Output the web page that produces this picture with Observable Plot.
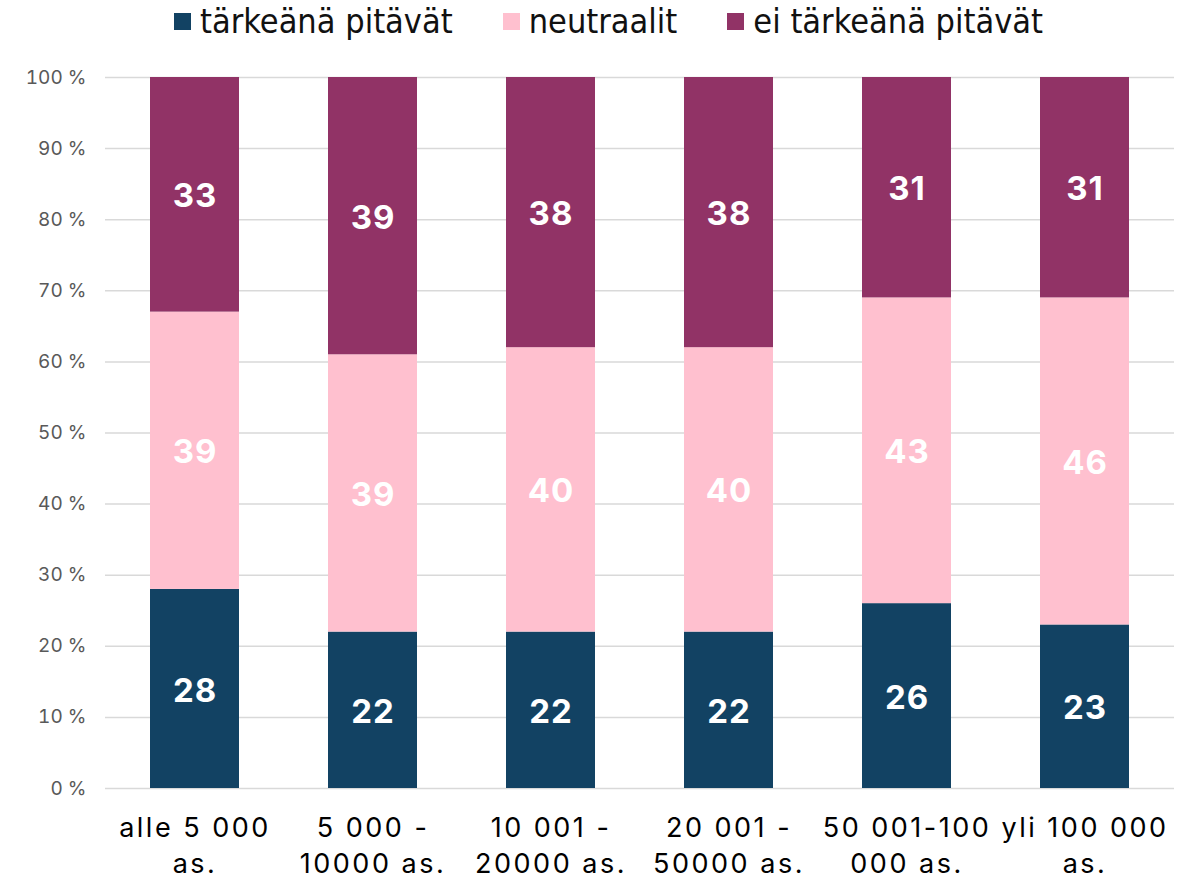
<!DOCTYPE html>
<html>
<head>
<meta charset="utf-8">
<script src="https://cdn.jsdelivr.net/npm/d3@7"></script>
<script src="https://cdn.jsdelivr.net/npm/@observablehq/plot@0.6"></script>
<style>
  html, body { margin: 0; padding: 0; background: #fff; }
  #legend {
    height: 42px; display: flex; align-items: center; justify-content: flex-start;
    padding-left: 174px; box-sizing: border-box; white-space: nowrap;
    font-family: "DejaVu Sans Condensed", "DejaVu Sans", sans-serif; font-size: 34px; color: #111;
  }
  .item { display: flex; align-items: center; flex-shrink: 0; margin-right: 50px; }
  .sw { width: 17px; height: 17px; margin-right: 9px; flex-shrink: 0; }
</style>
</head>
<body>
<div id="legend"></div>
<div id="chart"></div>
<script>
const categories = ["alle 5 000 as.", "5 000 - 10000 as.", "10 001 - 20000 as.", "20 001 - 50000 as.", "50 001-100 000 as.", "yli 100 000 as."];
const tickLabels = ["alle 5 000\nas.", "5 000 -\n10000 as.", "10 001 -\n20000 as.", "20 001 -\n50000 as.", "50 001-100\n000 as.", "yli 100 000\nas."];
const series = ["tärkeänä pitävät", "neutraalit", "ei tärkeänä pitävät"];
const important = [28, 22, 22, 22, 26, 23];
const neutral = [39, 39, 40, 40, 43, 46];
const notImportant = [33, 39, 38, 38, 31, 31];
const yTicks = [0, 10, 20, 30, 40, 50, 60, 70, 80, 90, 100];
const colors = ["#124263", "#FFC0CF", "#913366"];

const valuesBySeries = [important, neutral, notImportant];
const data = [];
categories.forEach((c, i) => {
  series.forEach((s, j) => data.push({category: c, series: s, value: valuesBySeries[j][i]}));
});

const legend = document.getElementById("legend");
series.forEach((s, j) => {
  const it = document.createElement("div"); it.className = "item";
  const sw = document.createElement("div"); sw.className = "sw"; sw.style.background = colors[j];
  const tx = document.createElement("span"); tx.textContent = s;
  it.appendChild(sw); it.appendChild(tx); legend.appendChild(it);
});

const chart = Plot.plot({
  width: 1195,
  height: 837,
  marginTop: 35,
  marginBottom: 91,
  marginLeft: 105,
  marginRight: 21,
  style: {fontFamily: "Inter, sans-serif", background: "#fff"},
  x: {domain: categories, paddingInner: 0.5, paddingOuter: 0.25, axis: null, label: null},
  y: {domain: [0, 100], axis: null, label: null},
  color: {domain: series, range: colors},
  marks: [
    Plot.gridY(yTicks, {stroke: "#d9d9d9", strokeOpacity: 1, strokeWidth: 1.5}),
    Plot.axisY(yTicks, {tickSize: 0, tickPadding: 19, tickFormat: d => d + " %", fontSize: 19, fill: "#595959", label: null}),
    Plot.barY(data, Plot.stackY({x: "category", y: "value", fill: "series", order: series})),
    Plot.text(data, Plot.stackY({x: "category", y: "value", z: "series", text: d => String(d.value), order: series, fill: "white", fontSize: 33, fontWeight: "bold", dy: 2})),
    Plot.axisX({tickSize: 0, tickPadding: 24, tickFormat: d => tickLabels[categories.indexOf(d)], fontSize: 27, lineHeight: 1.3, fill: "#000", label: null})
  ]
});
d3.select(chart).selectAll("g[aria-label='x-axis tick label'] text").style("letter-spacing", "2.5px");
d3.select(chart).selectAll("g[aria-label='text'] text").style("letter-spacing", "1px");
document.getElementById("chart").appendChild(chart);
</script>
</body>
</html>
